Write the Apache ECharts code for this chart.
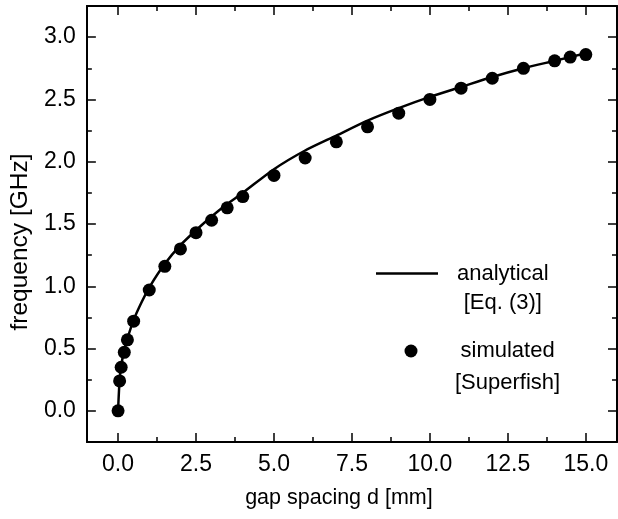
<!DOCTYPE html>
<html>
<head>
<meta charset="utf-8">
<script src="https://cdn.jsdelivr.net/npm/echarts@6/dist/echarts.min.js"></script>
<style>
html,body{margin:0;padding:0;background:#fff;}
#chart{width:618px;height:519px;}
</style>
</head>
<body>
<div id="chart"></div>
<script>
// simulated (Superfish) points
const simD = [0, 0.05, 0.1, 0.2, 0.3, 0.5, 1, 1.5, 2, 2.5, 3, 3.5, 4, 5, 6, 7, 8, 9, 10, 11, 12, 13, 14, 14.5, 15];
const simF = [0, 0.24, 0.35, 0.47, 0.57, 0.72, 0.97, 1.16, 1.30, 1.43, 1.53, 1.63, 1.72, 1.89, 2.03, 2.16, 2.28, 2.39, 2.50, 2.59, 2.67, 2.75, 2.81, 2.84, 2.86];
// analytical curve (Eq. 3)
const anaD = [0, 0.05, 0.1, 0.2, 0.3, 0.5, 0.75, 1, 1.5, 2, 2.5, 3, 3.5, 4, 5, 6, 7, 8, 9, 10, 11, 12, 13, 14, 15];
const anaF = [0, 0.25, 0.36, 0.49, 0.58, 0.73, 0.87, 0.99, 1.18, 1.33, 1.45, 1.56, 1.66, 1.75, 1.94, 2.09, 2.21, 2.33, 2.43, 2.52, 2.60, 2.68, 2.75, 2.81, 2.87];
// ticks
const xMajor = [0, 2.5, 5, 7.5, 10, 12.5, 15];
const xMinor = [1.25, 3.75, 6.25, 8.75, 11.25, 13.75];
const yMajor = [0, 0.5, 1, 1.5, 2, 2.5, 3];
const yMinor = [0.25, 0.75, 1.25, 1.75, 2.25, 2.75];

const FONT = '"Liberation Sans", Arial, Helvetica, sans-serif';
const FS = 23;
const LFS = 22;

function xAx(pos, ticks, len, showLine, labels, extra) {
  return Object.assign({
    type: 'value', position: pos, min: -1, max: 16,
    axisLine: {show: showLine, onZero: false, lineStyle: {color: '#000', width: 2}},
    axisTick: {show: true, inside: true, length: len, customValues: ticks, lineStyle: {color: '#000', width: 1.5}},
    axisLabel: labels ? {show: true, customValues: ticks, formatter: v => v.toFixed(1), color: '#000', fontSize: FS, fontFamily: FONT, margin: 11} : {show: false},
    splitLine: {show: false}, minorTick: {show: false}
  }, extra || {});
}
function yAx(pos, ticks, len, showLine, labels, extra) {
  return Object.assign({
    type: 'value', position: pos, min: -0.25, max: 3.25,
    axisLine: {show: showLine, onZero: false, lineStyle: {color: '#000', width: 2}},
    axisTick: {show: true, inside: true, length: len, customValues: ticks, lineStyle: {color: '#000', width: 1.5}},
    axisLabel: labels ? {show: true, customValues: ticks, formatter: v => v.toFixed(1), color: '#000', fontSize: FS, fontFamily: FONT, margin: 11} : {show: false},
    splitLine: {show: false}, minorTick: {show: false}
  }, extra || {});
}

const chart = echarts.init(document.getElementById('chart'), null, {renderer: 'canvas'});
chart.setOption({
  backgroundColor: '#fff',
  animation: false,
  grid: {left: 84, top: 6, right: 1, bottom: 77, containLabel: false},
  xAxis: [
    xAx('bottom', xMajor, 9, true, true, {
      name: 'gap spacing d [mm]', nameLocation: 'middle', nameGap: 45,
      nameTextStyle: {color: '#000', fontSize: 21.5, fontFamily: FONT, padding: [0, 26, 0, 0]}
    }),
    xAx('bottom', xMinor, 5, false, false),
    xAx('top', xMajor, 9, true, false),
    xAx('top', xMinor, 5, false, false)
  ],
  yAxis: [
    yAx('left', yMajor, 9, true, true, {
      name: 'frequency [GHz]', nameLocation: 'middle', nameGap: 52, nameRotate: 90,
      nameTextStyle: {color: '#000', fontSize: 24.5, fontFamily: FONT, padding: [0, 36, 0, 0]}
    }),
    yAx('left', yMinor, 5, false, false),
    yAx('right', yMajor, 9, true, false),
    yAx('right', yMinor, 5, false, false)
  ],
  legend: [
    {
      data: ['analytical'], left: 376, top: 262.5, padding: 0,
      icon: 'rect', itemWidth: 62, itemHeight: 2.5, selectedMode: false,
      itemStyle: {color: '#000'},
      formatter: () => '{a|analytical}\n{a|[Eq. (3)]}',
      textStyle: {color: '#000', fontSize: LFS, fontFamily: FONT, padding: [29, 0, 0, 14],
        rich: {a: {align: 'center', fontSize: LFS, fontFamily: FONT, lineHeight: 29, color: '#000'}}}
    },
    {
      data: ['simulated'], left: 404.5, top: 340, padding: 0,
      itemWidth: 13, itemHeight: 13, selectedMode: false, icon: 'circle',
      itemStyle: {color: '#000', opacity: 1},
      formatter: () => '{a|simulated}\n{a|[Superfish]}',
      textStyle: {color: '#000', fontSize: LFS, fontFamily: FONT, padding: [32, 0, 0, 32.5],
        rich: {a: {align: 'center', fontSize: LFS, fontFamily: FONT, lineHeight: 32, color: '#000'}}}
    }
  ],
  series: [
    {
      name: 'analytical', type: 'line', xAxisIndex: 0, yAxisIndex: 0,
      data: anaD.map((d, i) => [d, anaF[i]]),
      smooth: 0.25, symbol: 'none', showSymbol: false,
      lineStyle: {color: '#000', width: 2.5}, itemStyle: {color: '#000'}, z: 2
    },
    {
      name: 'simulated', type: 'scatter', xAxisIndex: 0, yAxisIndex: 0,
      data: simD.map((d, i) => [d, simF[i]]),
      symbol: 'circle', symbolSize: 13,
      itemStyle: {color: '#000', opacity: 1}, z: 3
    }
  ]
});
</script>
</body>
</html>
